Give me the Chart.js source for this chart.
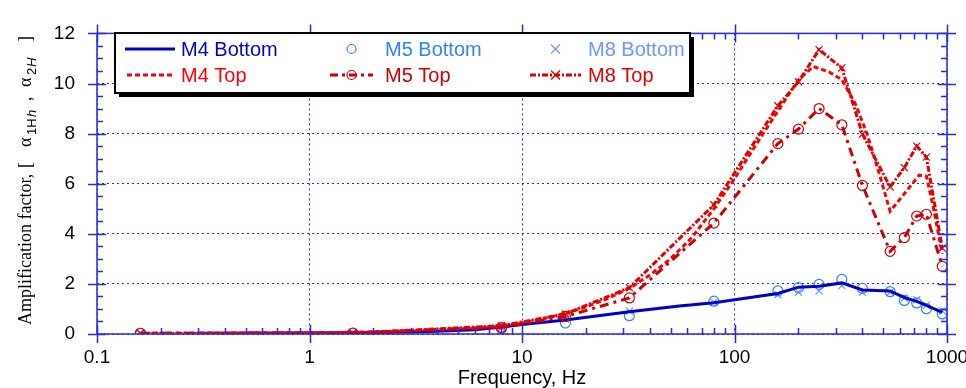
<!DOCTYPE html>
<html lang="en">
<head>
<meta charset="UTF-8">
<title>Amplification factor</title>
<script src="https://cdn.jsdelivr.net/npm/chart.js@4.4.1/dist/chart.umd.min.js"></script>
<style>
  html, body { margin: 0; padding: 0; background: #fff; }
</style>
</head>
<body>
<canvas id="canvas" width="966" height="388"></canvas>
<script>
// measured frequencies (Hz) for the M5 / M8 sensors
const freqPts = [0.16, 1.6, 8, 16, 32, 80, 160, 200, 250, 320, 400, 540, 630, 720, 800, 950];
const m5Bottom = [0.03, 0.03, 0.22, 0.44, 0.73, 1.31, 1.72, 1.85, 1.98, 2.18, 1.82, 1.69, 1.34, 1.24, 1.01, 0.80];
const m8Bottom = [0.03, 0.03, 0.25, 0.60, 0.92, 1.27, 1.57, 1.67, 1.72, 1.93, 1.67, 1.67, 1.44, 1.37, 1.15, 0.92];
const m5Top = [0.03, 0.04, 0.26, 0.70, 1.44, 4.43, 7.60, 8.18, 9.00, 8.35, 5.93, 3.30, 3.85, 4.71, 4.78, 2.70];
const m8Top = [0.03, 0.04, 0.33, 0.80, 1.85, 5.16, 9.11, 10.07, 11.35, 10.62, 7.98, 5.87, 6.64, 7.50, 7.06, 3.43];

// M4 is drawn as a continuous curve
const freqM4Bottom = [0.3, 0.5, 1, 1.6, 2.5, 4, 6, 8, 10, 16, 32, 55, 80, 160, 200, 250, 320, 400, 540, 630, 720, 800, 950];
const m4Bottom = [0.02, 0.03, 0.04, 0.05, 0.07, 0.11, 0.17, 0.28, 0.38, 0.56, 0.89, 1.12, 1.25, 1.62, 1.87, 1.91, 2.04, 1.76, 1.72, 1.45, 1.30, 1.14, 0.86];
const freqM4Top = [0.18, 0.5, 1, 1.6, 2.5, 4, 6, 8, 10, 12.5, 16, 20, 25, 32, 40, 50, 63, 80, 100, 125, 160, 200, 235, 280, 320, 370, 420, 480, 540, 630, 740, 800, 860, 950];
const m4Top = [0.03, 0.04, 0.05, 0.07, 0.11, 0.18, 0.25, 0.33, 0.45, 0.6, 0.82, 1.08, 1.4, 1.82, 2.35, 3.0, 3.85, 5.0, 6.2, 7.5, 8.9, 10.15, 10.68, 10.45, 10.15, 9.2, 8.0, 6.4, 4.9, 5.6, 6.34, 6.3, 5.1, 3.2];

const xTicks = [0.1, 1, 10, 100, 1000];

const colM4B = '#0000cc', colM5B = 'rgb(51,128,255)', colM8B = 'rgb(110,150,255)';
const colM4T = '#ff0000', colM5T = '#cc0000', colM8T = '#e00000';
const axisBlue = 'rgb(40,40,225)';

function pts(xs, ys) {
    return xs.map((x, i) => ({ x: x, y: ys[i] }));
}

// box, ticks on all four sides
const framePlugin = {
    id: 'frame',
    afterDatasetsDraw(chart) {
        const { ctx, chartArea: a, scales: { x, y } } = chart;
        ctx.save();
        ctx.strokeStyle = axisBlue;
        ctx.lineWidth = 1.5;
        ctx.strokeRect(a.left, a.top, a.right - a.left, a.bottom - a.top);
        ctx.beginPath();
        for (let d = -1; d <= 3; d++) {
            for (let m = 1; m <= 9; m++) {
                const v = m * Math.pow(10, d);
                if (v > 1000) continue;
                const px = Math.round(x.getPixelForValue(v)) + 0.5;
                if (m === 1) {
                    ctx.moveTo(px, a.bottom + 9); ctx.lineTo(px, a.bottom - 9);
                    ctx.moveTo(px, a.top - 9); ctx.lineTo(px, a.top + 9);
                } else {
                    ctx.moveTo(px, a.bottom); ctx.lineTo(px, a.bottom - 6);
                    ctx.moveTo(px, a.top); ctx.lineTo(px, a.top + 6);
                }
            }
        }
        for (let k = 0; k <= 24; k++) {
            const v = k * 0.5;
            const py = Math.round(y.getPixelForValue(v)) + 0.5;
            if (k % 4 === 0) {
                ctx.moveTo(a.left - 9, py); ctx.lineTo(a.left + 9, py);
                ctx.moveTo(a.right - 9, py); ctx.lineTo(a.right + 9, py);
            } else {
                ctx.moveTo(a.left, py); ctx.lineTo(a.left + 6, py);
                ctx.moveTo(a.right, py); ctx.lineTo(a.right - 6, py);
            }
        }
        ctx.stroke();
        ctx.restore();
    }
};

// y title with subscripts, pieces placed along the rotated baseline
const yTitlePlugin = {
    id: 'ytitle',
    afterDraw(chart) {
        const ctx = chart.ctx;
        ctx.save();
        ctx.translate(31, 325);
        ctx.rotate(-Math.PI / 2);
        ctx.fillStyle = '#000';
        ctx.textBaseline = 'alphabetic';
        ctx.textAlign = 'left';
        const serif = '18px "Liberation Serif", serif';
        const sub = '13px "Liberation Sans", sans-serif';
        const subIt = 'italic 13px "Liberation Sans", sans-serif';
        const parts = [
            ['Amplification factor,', serif, 0, 0],
            ['[', serif, 157, 0],
            ['\u03b1', serif, 178, 0],
            ['1H', sub, 190, 5],
            ['h', subIt, 208, 5],
            [',', serif, 224, 0],
            ['\u03b1', serif, 238, 0],
            ['2', sub, 250, 5],
            ['H', subIt, 258, 5],
            [']', serif, 283, 0]
        ];
        parts.forEach(p => {
            ctx.font = p[1];
            ctx.fillText(p[0], p[2], p[3]);
        });
        ctx.restore();
    }
};

// legend box inside the plot
const legendPlugin = {
    id: 'boxlegend',
    afterDraw(chart) {
        const ctx = chart.ctx;
        const bx = 115, by = 33, bw = 575, bh = 60;
        ctx.save();
        ctx.fillStyle = '#000';
        ctx.fillRect(bx + 4, by + 4, bw, bh);
        ctx.fillStyle = '#fff';
        ctx.fillRect(bx, by, bw, bh);
        ctx.strokeStyle = '#000';
        ctx.lineWidth = 2;
        ctx.strokeRect(bx, by, bw, bh);

        const items = [
            { label: 'M4 Bottom', col: colM4B, x0: 125, x1: 175, tx: 181, row: 0, dash: [], marker: null, line: true },
            { label: 'M5 Bottom', col: colM5B, x0: 330, x1: 373, tx: 385, row: 0, dash: [], marker: 'circle', line: false },
            { label: 'M8 Bottom', col: colM8B, x0: 530, x1: 581, tx: 588, row: 0, dash: [], marker: 'cross', line: false },
            { label: 'M4 Top', col: colM4T, x0: 127, x1: 175, tx: 181, row: 1, dash: [5, 3], marker: null, line: true },
            { label: 'M5 Top', col: colM5T, x0: 330, x1: 373, tx: 385, row: 1, dash: [8, 4, 3, 4], marker: 'circle', line: true },
            { label: 'M8 Top', col: colM8T, x0: 530, x1: 581, tx: 588, row: 1, dash: [6, 2, 2, 2], marker: 'cross', line: true }
        ];
        items.forEach(it => {
            const yy = it.row === 0 ? 49 : 75;
            const mx = (it.x0 + it.x1) / 2;
            ctx.strokeStyle = it.col;
            if (it.line) {
                ctx.lineWidth = 3;
                ctx.setLineDash(it.dash);
                ctx.beginPath();
                ctx.moveTo(it.x0, yy);
                ctx.lineTo(it.x1, yy);
                ctx.stroke();
                ctx.setLineDash([]);
            }
            ctx.lineWidth = 1.2;
            if (it.marker === 'circle') {
                ctx.beginPath();
                ctx.arc(mx, yy, 4.5, 0, Math.PI * 2);
                ctx.stroke();
            } else if (it.marker === 'cross') {
                ctx.beginPath();
                ctx.moveTo(mx - 4.5, yy - 4.5); ctx.lineTo(mx + 4.5, yy + 4.5);
                ctx.moveTo(mx - 4.5, yy + 4.5); ctx.lineTo(mx + 4.5, yy - 4.5);
                ctx.stroke();
            }
            ctx.fillStyle = it.col;
            ctx.font = '20px "Liberation Sans", Arial, sans-serif';
            ctx.textBaseline = 'middle';
            ctx.textAlign = 'left';
            ctx.fillText(it.label, it.tx, yy + 1);
        });
        ctx.restore();
    }
};

const ctx = document.getElementById('canvas').getContext('2d');
const chart = new Chart(ctx, {
    type: 'line',
    data: {
        datasets: [
            {
                label: 'M8 Top', data: pts(freqPts, m8Top),
                borderColor: colM8T, borderWidth: 3, borderDash: [6, 2, 2, 2],
                pointStyle: 'crossRot', pointRadius: 5, pointBorderWidth: 1.2,
                pointBorderColor: colM8T, backgroundColor: 'transparent', fill: false
            },
            {
                label: 'M5 Top', data: pts(freqPts, m5Top),
                borderColor: colM5T, borderWidth: 3, borderDash: [9, 5, 3, 5],
                pointStyle: 'circle', pointRadius: 5, pointBorderWidth: 1.2,
                pointBorderColor: colM5T, pointBackgroundColor: 'transparent', backgroundColor: 'transparent', fill: false
            },
            {
                label: 'M4 Top', data: pts(freqM4Top, m4Top),
                borderColor: colM4T, borderWidth: 3, borderDash: [5, 3],
                pointRadius: 0, fill: false
            },
            {
                label: 'M4 Bottom', data: pts(freqM4Bottom, m4Bottom),
                borderColor: colM4B, borderWidth: 3,
                pointRadius: 0, fill: false
            },
            {
                label: 'M5 Bottom', data: pts(freqPts, m5Bottom),
                showLine: false, pointStyle: 'circle', pointRadius: 5, pointBorderWidth: 1.2,
                pointBorderColor: colM5B, pointBackgroundColor: 'transparent', borderColor: colM5B
            },
            {
                label: 'M8 Bottom', data: pts(freqPts, m8Bottom),
                showLine: false, pointStyle: 'crossRot', pointRadius: 5, pointBorderWidth: 1.2,
                pointBorderColor: colM8B, borderColor: colM8B
            }
        ]
    },
    options: {
        responsive: false,
        devicePixelRatio: 1,
        animation: false,
        layout: { padding: { left: 0, right: 19, top: 22, bottom: 0 } },
        elements: { line: { tension: 0 } },
        plugins: {
            legend: { display: false },
            tooltip: { enabled: false }
        },
        scales: {
            x: {
                type: 'logarithmic',
                min: 0.1,
                max: 1000,
                afterBuildTicks(scale) {
                    scale.ticks = xTicks.map(v => ({ value: v }));
                },
                afterFit(scale) {
                    scale.height = 54;
                    scale.paddingLeft = 0;
                    scale.paddingRight = 0;
                },
                grid: { color: 'rgba(0,0,255,0.85)', lineWidth: 1, drawTicks: false },
                border: { display: false, dash: [2, 3] },
                ticks: {
                    autoSkip: false,
                    maxRotation: 0,
                    padding: 12,
                    color: '#000',
                    font: { family: '"Liberation Sans", Arial, sans-serif', size: 19 },
                    callback: v => String(v)
                },
                title: {
                    display: true,
                    text: 'Frequency, Hz',
                    color: '#000',
                    padding: 0,
                    font: { family: '"Liberation Sans", Arial, sans-serif', size: 20, lineHeight: 1 }
                }
            },
            y: {
                min: 0,
                max: 12,
                afterFit(scale) {
                    scale.width = 97;
                },
                grid: { color: 'rgba(0,0,255,0.85)', lineWidth: 1, drawTicks: false },
                border: { display: false, dash: [2, 3] },
                ticks: {
                    stepSize: 2,
                    padding: 22,
                    color: '#000',
                    font: { family: '"Liberation Sans", Arial, sans-serif', size: 19 }
                }
            }
        }
    },
    plugins: [framePlugin, yTitlePlugin, legendPlugin]
});
</script>
</body>
</html>
